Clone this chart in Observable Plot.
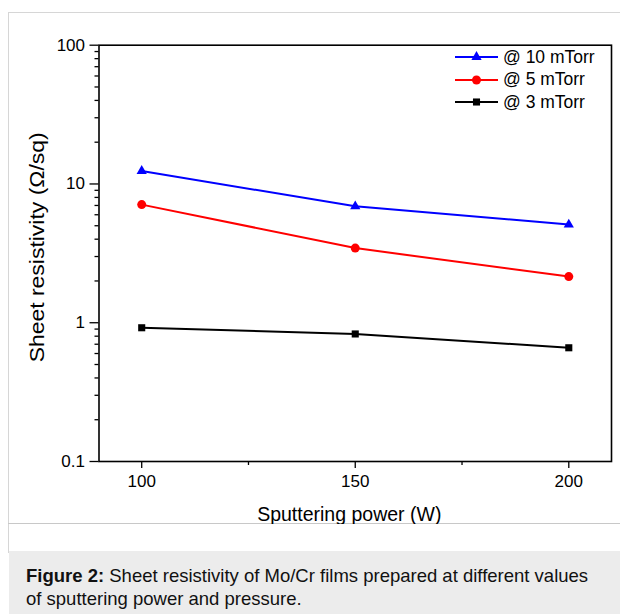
<!DOCTYPE html>
<html><head><meta charset="utf-8">
<script src="https://cdn.jsdelivr.net/npm/d3@7"></script>
<script src="https://cdn.jsdelivr.net/npm/@observablehq/plot@0.6"></script>
<style>
body{margin:0;background:#fff;font-family:"Liberation Sans",Arial,sans-serif;}
#wrap{position:relative;width:620px;height:614px;overflow:hidden;background:#fff;}
#border{position:absolute;left:8px;top:12px;width:640px;height:540px;border-left:1px solid #d6d6d6;border-top:1px solid #d6d6d6;}
#hline{position:absolute;left:8px;top:523px;width:640px;height:0;border-top:1px solid #c8c8c8;}
#chart{position:absolute;left:0;top:0;}
#legend{position:absolute;left:454px;top:46px;font-size:17.5px;color:#000;}
#legend .row{display:flex;align-items:center;height:22.5px;}
#legend svg{margin-right:4px;}
#caption{position:absolute;left:9px;top:551px;right:0;bottom:0;background:#ececec;font-size:18.5px;line-height:23px;color:#111;padding:13px 0 0 17px;white-space:nowrap;}
</style></head><body>
<div id="wrap">
 <div id="border"></div>
 <div id="hline"></div>
 <div id="chart"></div>
 <div id="legend"></div>
 <div id="caption"><b>Figure 2:</b> Sheet resistivity of Mo/Cr films prepared at different values<br>of sputtering power and pressure.</div>
</div>
<script>
const power = [100, 150, 200];
const res10 = [12.4, 6.9, 5.1];
const res5 = [7.1, 3.45, 2.15];
const res3 = [0.92, 0.83, 0.66];
const seriesNames = ["@ 10 mTorr", "@ 5 mTorr", "@ 3 mTorr"];
const seriesColors = ["#0000ff", "#ff0000", "#000000"];
const seriesSymbols = ["triangle", "circle", "square"];
const seriesR = [3.8, 4.5, 4.0];
const xMajor = [100, 150, 200];
const xMinor = [125, 175];
const yMajor = [0.1, 1, 10, 100];
const yMajorLabels = ["0.1", "1", "10", "100"];
const yMinor = [0.2,0.3,0.4,0.5,0.6,0.7,0.8,0.9,2,3,4,5,6,7,8,9,20,30,40,50,60,70,80,90];

const allRes = [res10, res5, res3];
const data = [];
allRes.forEach((vals, i) => vals.forEach((v, j) => data.push({series: seriesNames[i], power: power[j], res: v})));

const marks = [
  Plot.axisY(yMinor, {tickSize: 4, tickFormat: () => "", strokeWidth: 1.3, label: null}),
  Plot.axisY(yMajor, {tickSize: 9, tickPadding: 5, tickFormat: (d) => yMajorLabels[yMajor.indexOf(d)], fontSize: 17, strokeWidth: 1.3, label: null}),
  Plot.axisX(xMinor, {tickSize: 4, tickFormat: () => "", strokeWidth: 1.3, label: null}),
  Plot.axisX(xMajor, {tickSize: 7, tickPadding: 6, fontSize: 17, strokeWidth: 1.3, label: null}),
  Plot.frame({stroke: "#000", strokeWidth: 1.6}),
  Plot.text(["Sputtering power (W)"], {frameAnchor: "bottom", dx: -6, dy: 59, lineAnchor: "bottom", fontSize: 19.5, fill: "#000"}),
  Plot.text(["Sheet resistivity (Ω/sq)"], {frameAnchor: "left", dx: -61, dy: -6, rotate: -90, textAnchor: "middle", lineAnchor: "middle", fontSize: 20, fill: "#000", className: "ylab"})
];
seriesNames.forEach((name, i) => {
  const d = data.filter(r => r.series === name);
  marks.push(Plot.line(d, {x: "power", y: "res", stroke: seriesColors[i], strokeWidth: 2}));
  marks.push(Plot.dot(d, {x: "power", y: "res", fill: seriesColors[i], symbol: () => seriesSymbols[i], r: seriesR[i], stroke: "none"}));
});

const chart = Plot.plot({
  width: 620,
  height: 524,
  marginLeft: 98.5,
  marginRight: 9,
  marginTop: 44.7,
  marginBottom: 63,
  style: {fontFamily: "Liberation Sans, Arial, sans-serif", color: "#000", background: "transparent"},
  x: {domain: [90, 210], axis: null},
  y: {type: "log", domain: [0.1, 100], axis: null},
  marks
});
document.getElementById("chart").appendChild(chart);
// stretch the y title to the reference's length
chart.querySelectorAll("g.ylab text").forEach(t => {
  t.setAttribute("textLength", 230);
  t.setAttribute("lengthAdjust", "spacingAndGlyphs");
});

// legend
const leg = document.getElementById("legend");
const symMap = {triangle: d3.symbolTriangle, circle: d3.symbolCircle, square: d3.symbolSquare};
seriesNames.forEach((name, i) => {
  const row = document.createElement("div");
  row.className = "row";
  const size = Math.PI * seriesR[i] * seriesR[i];
  const path = d3.symbol(symMap[seriesSymbols[i]], size)();
  row.innerHTML = `<svg width="45" height="16"><line x1="1" x2="44" y1="8" y2="8" stroke="${seriesColors[i]}" stroke-width="2"/><path transform="translate(22.5,8)" d="${path}" fill="${seriesColors[i]}"/></svg><span>${name}</span>`;
  leg.appendChild(row);
});
</script>
</body></html>
